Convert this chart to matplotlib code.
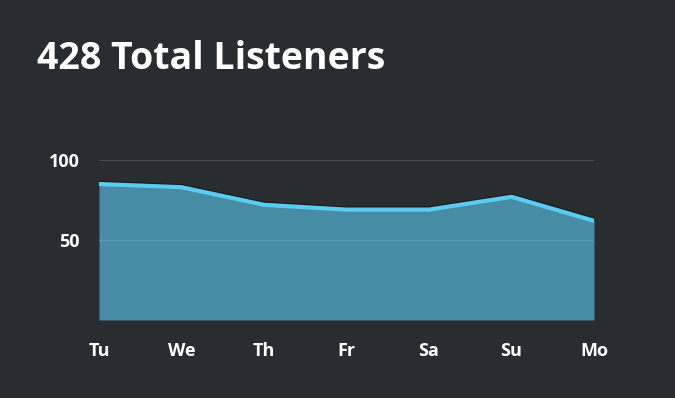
import matplotlib.pyplot as plt
import matplotlib.patheffects as pe

days = ['Tu', 'We', 'Th', 'Fr', 'Sa', 'Su', 'Mo']
listeners = [85, 83, 72, 69, 69, 77, 62]
total = 428
y_ticks = [50, 100]

bg = '#2a2d2f'
fill_color = '#468ca5'
line_color = '#5ccbf2'

plt.rcParams['font.family'] = ['Open Sans', 'DejaVu Sans']

fig = plt.figure(figsize=(6.75, 3.98), dpi=100, facecolor=bg)
ax = fig.add_axes([99 / 675, 78 / 398, 495 / 675, 160 / 398])
ax.set_facecolor(bg)

x = list(range(len(days)))
ax.axhline(100, color='#4b4e50', linewidth=1.5, zorder=1)
ax.fill_between(x, listeners, 0, color=fill_color, linewidth=0, zorder=2)
ax.axhline(50, color='#559cb4', linewidth=1, zorder=3)
ax.plot(x, listeners, color=line_color, linewidth=3, zorder=4,
        path_effects=[pe.SimpleLineShadow(offset=(0, 0.8), shadow_color='#111111', alpha=0.7),
                      pe.Normal()])

ax.set_xlim(0, len(days) - 1)
ax.set_ylim(0, 100)
ax.set_xticks(x)
ax.set_xticklabels(days)
ax.set_yticks(y_ticks)
ax.tick_params(axis='both', length=0, colors='white', labelsize=13)
ax.tick_params(axis='x', pad=16)
ax.tick_params(axis='y', pad=14)
for lbl in ax.get_xticklabels() + ax.get_yticklabels():
    lbl.set_fontweight('bold')
for s in ax.spines.values():
    s.set_visible(False)

fig.text(37 / 675, 1 - 69 / 398, f'{total} Total Listeners', color='white',
         fontsize=27, fontweight='bold', ha='left', va='baseline')

fig.savefig('out.png', dpi=100, facecolor=bg)
